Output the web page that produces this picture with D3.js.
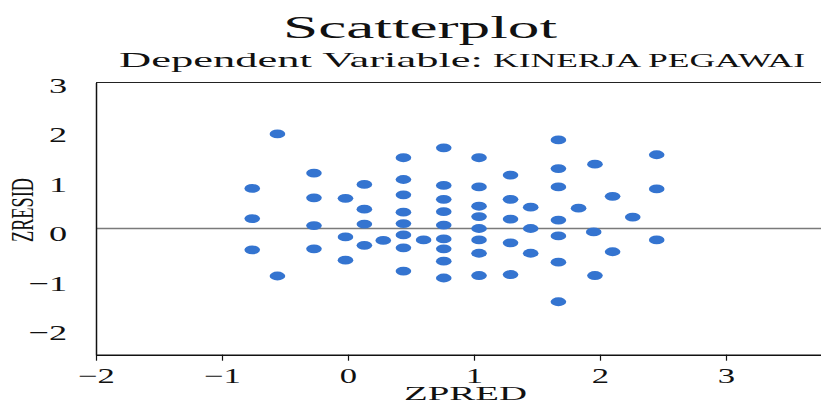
<!DOCTYPE html>
<html>
<head>
<meta charset="utf-8">
<script src="https://cdn.jsdelivr.net/npm/d3@7"></script>
<style>
    body { margin: 0; background: #fff; }
    text { font-family: "Liberation Serif", "DejaVu Serif", serif; fill: #111; }
</style>
</head>
<body>
<div id="scatter"></div>
<script>
// values
var zpred = [-0.76, -0.76, -0.76, -0.56, -0.56, -0.27, -0.27, -0.27, -0.27, -0.02, -0.02, -0.02,
    0.13, 0.13, 0.13, 0.13, 0.28, 0.44, 0.44, 0.44, 0.44, 0.44, 0.44, 0.44, 0.44, 0.60,
    0.76, 0.76, 0.76, 0.76, 0.76, 0.76, 0.76, 0.76, 0.76,
    1.04, 1.04, 1.04, 1.04, 1.04, 1.04, 1.04, 1.04, 1.29, 1.29, 1.29, 1.29, 1.29,
    1.45, 1.45, 1.45, 1.67, 1.67, 1.67, 1.67, 1.67, 1.67, 1.67, 1.83, 1.96, 1.95, 1.96,
    2.10, 2.10, 2.26, 2.45, 2.45, 2.45];
var zresid = [0.81, 0.20, -0.43, 1.91, -0.96, 1.12, 0.62, 0.06, -0.41, 0.61, -0.17, -0.64,
    0.89, 0.39, 0.09, -0.34, -0.24, 1.43, 0.99, 0.68, 0.33, 0.10, -0.13, -0.39, -0.86, -0.23,
    1.63, 0.87, 0.59, 0.34, 0.07, -0.21, -0.41, -0.66, -1.00,
    1.43, 0.84, 0.45, 0.24, 0.00, -0.23, -0.50, -0.95, 1.08, 0.59, 0.19, -0.29, -0.93,
    0.43, 0.00, -0.50, 1.79, 1.21, 0.84, 0.17, -0.15, -0.68, -1.48, 0.41, 1.30, -0.07, -0.95,
    0.65, -0.47, 0.23, 1.49, 0.80, -0.23];
var xTicks = [-2, -1, 0, 1, 2, 3];
var yTicks = [-2, -1, 0, 1, 2, 3];

var data = zpred.map(function (d, i) {
    return {x: d, y: zresid[i]};
});

var W = 821, H = 405;
var SX = 1.65; // the picture is stretched sideways

var svg = d3.select("#scatter")
    .append("svg")
    .attr("width", W)
    .attr("height", H);

var x = d3.scaleLinear()
    .domain([-2, 3.85])
    .range([96, 96 + 5.85 * 126]);

var y = d3.scaleLinear()
    .domain([-2.55, 2.95])
    .range([354.7, 82.5]);

var fmt = d3.format("d");

// titles
svg.append("text")
    .attr("x", 283).attr("y", 37.5)
    .attr("font-size", 32)
    .attr("textLength", 274).attr("lengthAdjust", "spacingAndGlyphs")
    .text("Scatterplot");

svg.append("text")
    .attr("x", 119).attr("y", 67.3)
    .attr("font-size", 22)
    .attr("textLength", 364).attr("lengthAdjust", "spacingAndGlyphs")
    .text("Dependent Variable:");

svg.append("text")
    .attr("x", 493).attr("y", 67.3)
    .attr("font-size", 18.5)
    .attr("textLength", 312).attr("lengthAdjust", "spacingAndGlyphs")
    .text("KINERJA PEGAWAI");

// frame top
svg.append("line")
    .attr("x1", x(-2)).attr("x2", W)
    .attr("y1", y(2.95)).attr("y2", y(2.95))
    .attr("stroke", "#222").attr("stroke-width", 1.2);

// zero reference line
svg.append("line")
    .attr("x1", x(-2)).attr("x2", W)
    .attr("y1", y(0)).attr("y2", y(0))
    .attr("stroke", "#7a7a7a").attr("stroke-width", 1.5);

// X axis
var gx = svg.append("g")
    .attr("transform", "translate(0," + y(-2.55) + ")")
    .call(d3.axisBottom(x).tickValues(xTicks).tickFormat(fmt).tickSize(6).tickPadding(7).tickSizeOuter(0));
gx.select(".domain").attr("stroke", "#111").attr("stroke-width", 1.5);
gx.selectAll(".tick line").attr("stroke", "#111").attr("stroke-width", 1.2);
gx.selectAll("text")
    .style("font-size", "21px")
    .attr("fill", "#111")
    .attr("transform", "scale(" + SX + ",1)");

// Y axis
var gy = svg.append("g")
    .attr("transform", "translate(" + x(-2) + ",0)")
    .call(d3.axisLeft(y).tickValues(yTicks).tickFormat(fmt).tickSize(0).tickPadding(17.5).tickSizeOuter(0));
gy.select(".domain").attr("stroke", "#111").attr("stroke-width", 1.5);
gy.selectAll("text")
    .style("font-size", "22px")
    .attr("fill", "#111")
    .attr("dy", "0.55em")
    .attr("transform", "scale(" + SX + ",1)");

// axis titles
svg.append("text")
    .attr("x", 465.5).attr("y", 400)
    .attr("text-anchor", "middle")
    .attr("font-size", 19)
    .attr("textLength", 123).attr("lengthAdjust", "spacingAndGlyphs")
    .text("ZPRED");

svg.append("text")
    .attr("transform", "translate(33,210) scale(" + SX + ",1) rotate(-90)")
    .attr("text-anchor", "middle")
    .attr("font-size", 18.5)
    .attr("textLength", 64).attr("lengthAdjust", "spacingAndGlyphs")
    .text("ZRESID");

// points
svg.append("g")
    .selectAll("ellipse")
    .data(data)
    .enter()
    .append("ellipse")
    .attr("cx", function (d) { return x(d.x); })
    .attr("cy", function (d) { return y(d.y); })
    .attr("rx", 7.8)
    .attr("ry", 4.4)
    .style("fill", "#3474d0");
</script>
</body>
</html>
